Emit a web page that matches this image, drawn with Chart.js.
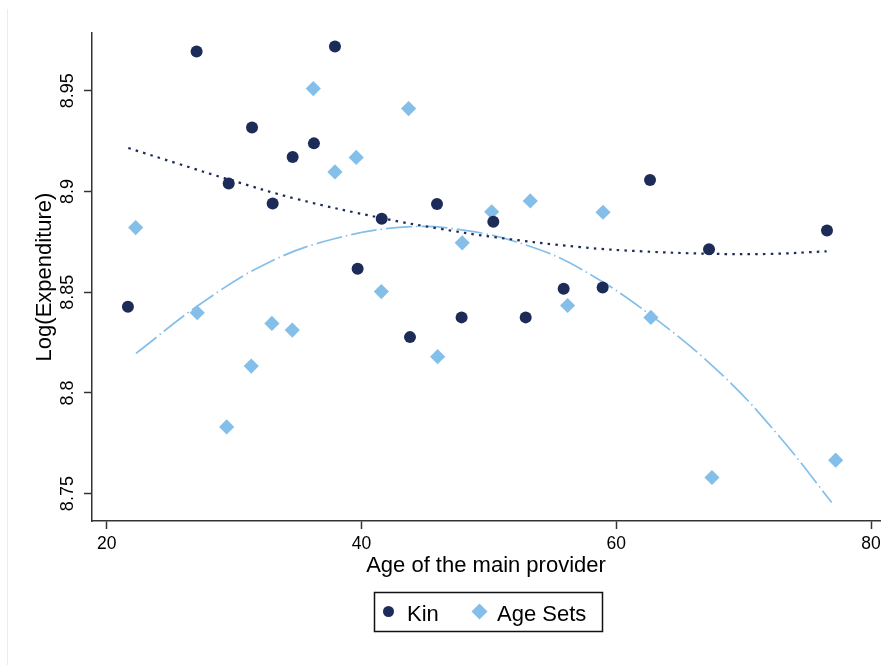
<!DOCTYPE html>
<html>
<head>
<meta charset="utf-8">
<title>Log(Expenditure) by age of the main provider</title>
<script src="https://cdn.jsdelivr.net/npm/chart.js@4/dist/chart.umd.min.js"></script>
<style>
  html, body { margin: 0; padding: 0; background: #ffffff; }
  canvas { display: block; }
</style>
</head>
<body>
<canvas id="chart" width="883" height="665"></canvas>
<script>
// Household observations: age of the main provider vs. log expenditure
const ageKin = [21.67, 27.06, 29.58, 31.41, 33.03, 34.60, 36.27, 37.92, 39.70, 41.59,
                43.81, 45.93, 47.86, 50.35, 52.89, 55.87, 58.93, 62.65, 67.28, 76.54];
const logExpKin = [8.8428, 8.9695, 8.9040, 8.9318, 8.8940, 8.9171, 8.9239, 8.9720, 8.8616, 8.8865,
                   8.8277, 8.8938, 8.8375, 8.8850, 8.8375, 8.8517, 8.8523, 8.9057, 8.8713, 8.8806];

const ageAgeSets = [22.28, 27.11, 29.42, 31.35, 32.97, 34.57, 36.22, 37.92, 39.59, 41.56,
                    43.70, 45.98, 47.91, 50.22, 53.25, 56.18, 58.96, 62.72, 67.51, 77.22];
const logExpAgeSets = [8.8821, 8.8398, 8.7831, 8.8133, 8.8345, 8.8312, 8.9511, 8.9097, 8.9169, 8.8503,
                       8.9412, 8.8180, 8.8745, 8.8899, 8.8953, 8.8434, 8.8897, 8.8375, 8.7580, 8.7666];

// Quadratic fit curves, sampled along the age range
const fitAgeKin = [21.70, 25.60, 29.58, 34.91, 41.59, 46.16, 50.35, 57.15, 62.00, 67.28, 72.00, 76.51];
const fitLogExpKin = [8.9216, 8.9138, 8.9060, 8.8963, 8.8868, 8.8815, 8.8774, 8.8724, 8.8703, 8.8691, 8.8690, 8.8703];

const fitAgeAgeSets = [22.30, 27.32, 32.56, 37.79, 43.55, 48.26, 52.97, 57.15, 62.72, 68.40, 72.85, 76.91];
const fitLogExpAgeSets = [8.8196, 8.8440, 8.8643, 8.8764, 8.8824, 8.8806, 8.8733, 8.8618, 8.8385, 8.8084, 8.7780, 8.7456];

// Axis ticks
const xTickValues = [20, 40, 60, 80];
const xTickLabels = ['20', '40', '60', '80'];
const yTickValues = [8.75, 8.8, 8.85, 8.9, 8.95];
const yTickLabels = ['8.75', '8.8', '8.85', '8.9', '8.95'];

const seriesNames = ['Kin', 'Age Sets'];
const xTitle = 'Age of the main provider';
const yTitle = 'Log(Expenditure)';

const NAVY = '#1c2b57';
const SKY = '#84bfe9';
const AXIS = '#333333';
const FONT = '"Liberation Sans", Arial, Helvetica, sans-serif';

const toPoints = (xs, ys) => xs.map((x, i) => ({ x: x, y: ys[i] }));

// Paints the white page, the axis texts and the framed legend
const decorations = {
  id: 'decorations',
  beforeDraw(chart) {
    const ctx = chart.ctx;
    ctx.save();
    ctx.fillStyle = '#ffffff';
    ctx.fillRect(0, 0, chart.width, chart.height);
    ctx.strokeStyle = '#ececec';
    ctx.lineWidth = 1;
    ctx.beginPath();
    ctx.moveTo(7.5, 9);
    ctx.lineTo(7.5, chart.height);
    ctx.stroke();
    ctx.restore();
  },
  afterDraw(chart) {
    const ctx = chart.ctx;
    const xs = chart.scales.x;
    const ys = chart.scales.y;
    const area = chart.chartArea;
    ctx.save();
    ctx.fillStyle = '#000000';

    // x tick labels
    ctx.font = '17.5px ' + FONT;
    ctx.textAlign = 'center';
    ctx.textBaseline = 'alphabetic';
    xTickValues.forEach((v, i) => {
      ctx.fillText(xTickLabels[i], xs.getPixelForValue(v), area.bottom + 27.5);
    });

    // y tick labels, turned to read upwards
    ctx.font = '18px ' + FONT;
    yTickValues.forEach((v, i) => {
      ctx.save();
      ctx.translate(area.left - 19, ys.getPixelForValue(v));
      ctx.rotate(-Math.PI / 2);
      ctx.fillText(yTickLabels[i], 0, 0);
      ctx.restore();
    });

    // axis titles
    ctx.font = '22px ' + FONT;
    ctx.fillText(xTitle, (area.left + area.right) / 2, area.bottom + 51);
    ctx.save();
    ctx.translate(51, (area.top + area.bottom) / 2);
    ctx.rotate(-Math.PI / 2);
    ctx.fillText(yTitle, 0, 0);
    ctx.restore();

    // legend box
    const box = { x: 374.5, y: 592.5, w: 228, h: 39 };
    ctx.strokeStyle = '#111111';
    ctx.lineWidth = 1.5;
    ctx.strokeRect(box.x, box.y, box.w, box.h);

    const entries = [
      { ds: chart.data.datasets[0], mx: 388.5, tx: 407, r: 5.5 },
      { ds: chart.data.datasets[1], mx: 479.5, tx: 497, r: 8 }
    ];
    const my = 611.5;
    ctx.font = '22px ' + FONT;
    ctx.textAlign = 'left';
    entries.forEach(e => {
      ctx.fillStyle = e.ds.backgroundColor;
      ctx.beginPath();
      if (e.ds.pointStyle === 'rectRot') {
        ctx.moveTo(e.mx - e.r, my);
        ctx.lineTo(e.mx, my - e.r);
        ctx.lineTo(e.mx + e.r, my);
        ctx.lineTo(e.mx, my + e.r);
        ctx.closePath();
      } else {
        ctx.arc(e.mx, my, e.r, 0, Math.PI * 2);
      }
      ctx.fill();
      ctx.fillStyle = '#000000';
      ctx.fillText(e.ds.label, e.tx, 621);
    });
    ctx.restore();
  }
};

new Chart(document.getElementById('chart'), {
  type: 'scatter',
  data: {
    datasets: [
      {
        label: seriesNames[0],
        data: toPoints(ageKin, logExpKin),
        pointStyle: 'circle',
        pointRadius: 6,
        pointBorderWidth: 0,
        backgroundColor: NAVY,
        borderColor: NAVY,
        order: 0
      },
      {
        label: seriesNames[1],
        data: toPoints(ageAgeSets, logExpAgeSets),
        pointStyle: 'rectRot',
        pointRadius: 7.6,
        pointBorderWidth: 0,
        backgroundColor: SKY,
        borderColor: SKY,
        order: 1
      },
      {
        label: 'Kin fit',
        data: toPoints(fitAgeKin, fitLogExpKin),
        showLine: true,
        pointRadius: 0,
        borderColor: NAVY,
        borderWidth: 2.2,
        borderDash: [2.5, 5.2],
        borderCapStyle: 'butt',
        tension: 0.4,
        fill: false,
        order: 2
      },
      {
        label: 'Age Sets fit',
        data: toPoints(fitAgeAgeSets, fitLogExpAgeSets),
        showLine: true,
        pointRadius: 0,
        borderColor: SKY,
        borderWidth: 1.7,
        borderDash: [26, 4, 1.5, 4],
        borderCapStyle: 'butt',
        tension: 0.4,
        fill: false,
        order: 3
      }
    ]
  },
  options: {
    responsive: false,
    animation: false,
    devicePixelRatio: 1,
    layout: { autoPadding: false, padding: { top: 33, left: 0, right: 3, bottom: 0 } },
    plugins: {
      legend: { display: false },
      tooltip: { enabled: false },
      title: { display: false }
    },
    scales: {
      x: {
        type: 'linear',
        min: 18.85,
        max: 80.7,
        afterBuildTicks(scale) { scale.ticks = xTickValues.map(v => ({ value: v })); },
        afterFit(scale) { scale.height = 144; },
        ticks: { display: false },
        grid: {
          display: true,
          drawOnChartArea: false,
          drawTicks: true,
          tickLength: 8,
          tickColor: AXIS,
          tickWidth: 1.5
        },
        border: { display: true, color: AXIS, width: 1.5 }
      },
      y: {
        type: 'linear',
        min: 8.7364,
        max: 8.9787,
        afterBuildTicks(scale) { scale.ticks = yTickValues.map(v => ({ value: v })); },
        afterFit(scale) { scale.width = 92; },
        ticks: { display: false },
        grid: {
          display: true,
          drawOnChartArea: false,
          drawTicks: true,
          tickLength: 8,
          tickColor: AXIS,
          tickWidth: 1.5
        },
        border: { display: true, color: AXIS, width: 1.5 }
      }
    }
  },
  plugins: [decorations]
});
</script>
</body>
</html>
